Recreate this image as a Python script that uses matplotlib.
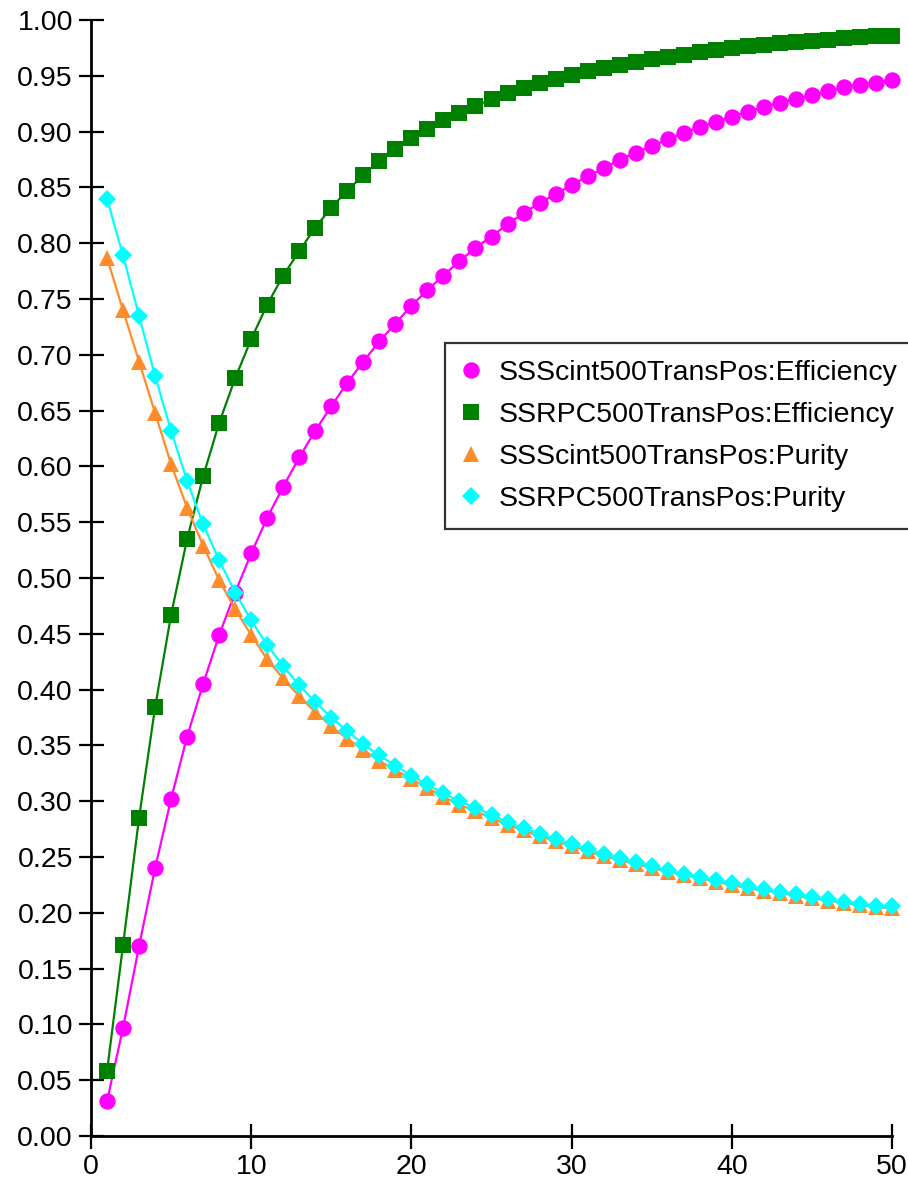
import matplotlib
matplotlib.use("Agg")
import matplotlib.pyplot as plt
from matplotlib.lines import Line2D
import numpy as np

plt.rcParams['font.family'] = ['Liberation Sans', 'DejaVu Sans']

cuts = list(range(1, 51))

scint_eff = [0.031, 0.097, 0.170, 0.240, 0.302, 0.358, 0.405, 0.449, 0.487, 0.522,
             0.554, 0.582, 0.608, 0.632, 0.654, 0.675, 0.694, 0.712, 0.728, 0.744,
             0.758, 0.771, 0.784, 0.796, 0.806, 0.817, 0.827, 0.836, 0.844, 0.852,
             0.860, 0.867, 0.875, 0.881, 0.887, 0.893, 0.899, 0.904, 0.909, 0.913,
             0.918, 0.922, 0.926, 0.929, 0.933, 0.936, 0.940, 0.942, 0.944, 0.946]

rpc_eff = [0.058, 0.171, 0.285, 0.384, 0.467, 0.535, 0.591, 0.639, 0.679, 0.714,
           0.745, 0.771, 0.793, 0.814, 0.832, 0.847, 0.861, 0.874, 0.884, 0.894,
           0.902, 0.910, 0.917, 0.923, 0.929, 0.935, 0.939, 0.944, 0.947, 0.951,
           0.954, 0.957, 0.960, 0.962, 0.965, 0.967, 0.969, 0.971, 0.973, 0.975,
           0.977, 0.978, 0.979, 0.980, 0.981, 0.982, 0.984, 0.985, 0.986, 0.986]

scint_pur = [0.787, 0.740, 0.694, 0.648, 0.602, 0.563, 0.529, 0.498, 0.472, 0.449,
             0.427, 0.410, 0.394, 0.380, 0.367, 0.356, 0.346, 0.336, 0.328, 0.320,
             0.312, 0.304, 0.297, 0.291, 0.285, 0.279, 0.274, 0.269, 0.264, 0.260,
             0.255, 0.251, 0.247, 0.244, 0.240, 0.237, 0.234, 0.231, 0.228, 0.225,
             0.222, 0.220, 0.218, 0.215, 0.213, 0.211, 0.209, 0.207, 0.205, 0.204]

rpc_pur = [0.840, 0.789, 0.735, 0.681, 0.632, 0.587, 0.548, 0.516, 0.487, 0.462,
           0.440, 0.421, 0.404, 0.389, 0.375, 0.363, 0.351, 0.341, 0.332, 0.323,
           0.315, 0.307, 0.300, 0.294, 0.288, 0.281, 0.276, 0.271, 0.266, 0.262,
           0.257, 0.253, 0.249, 0.246, 0.242, 0.238, 0.235, 0.232, 0.229, 0.227,
           0.224, 0.221, 0.219, 0.217, 0.214, 0.212, 0.210, 0.208, 0.206, 0.206]

series = [
    ("SSScint500TransPos:Efficiency", scint_eff, '#ff00ff', 'o', 11.8),
    ("SSRPC500TransPos:Efficiency", rpc_eff, '#008000', 's', 11),
    ("SSScint500TransPos:Purity", scint_pur, '#ff8c2a', '^', 11.8),
    ("SSRPC500TransPos:Purity", rpc_pur, '#00ffff', 'D', 9),
]

fig = plt.figure(figsize=(9.08, 11.84), dpi=100)
ax = fig.add_axes([0.1002, 0.0405, 0.8822, 0.9426])

handles = []
for label, vals, color, marker, ms in series:
    ax.plot(cuts, vals, color=color, linewidth=1.6, marker=marker,
            markersize=ms, markeredgewidth=0, clip_on=False)
    handles.append(Line2D([], [], color=color, marker=marker, linestyle='none',
                          markersize=ms, markeredgewidth=0, label=label))

ax.set_xlim(0, 50)
ax.set_ylim(0, 1.0)
ax.set_xticks(range(0, 51, 10))
ax.set_yticks(np.arange(0, 1.0001, 0.05))
ax.set_yticklabels([f"{v:.2f}" for v in np.arange(0, 1.0001, 0.05)])

for side in ['top', 'right']:
    ax.spines[side].set_visible(False)
for side in ['left', 'bottom']:
    ax.spines[side].set_linewidth(2)
ax.tick_params(direction='inout', length=18, width=1.6, labelsize=20.5, pad=4)

leg = fig.legend(handles=handles, loc='upper left',
                 bbox_to_anchor=(445 / 908, 1 - 343 / 1184),
                 fontsize=20.5, frameon=True, fancybox=False, edgecolor='black',
                 borderpad=0.6, labelspacing=0.56, handletextpad=0.62,
                 handlelength=0.65, borderaxespad=0)
leg.get_frame().set_linewidth(1.6)

fig.savefig("out.png", dpi=100)
